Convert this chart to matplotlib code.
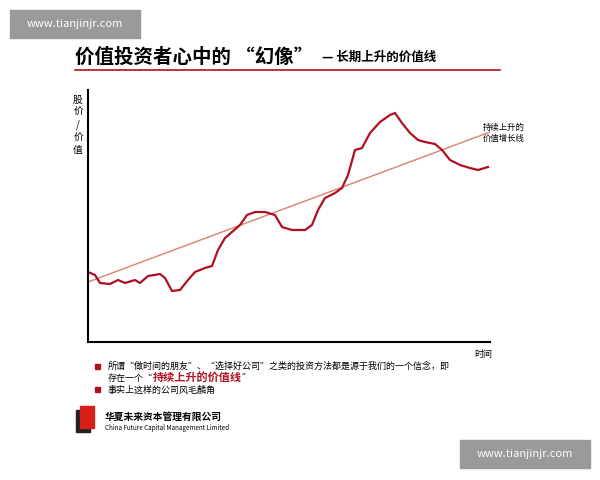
import matplotlib.pyplot as plt
from matplotlib.patches import Rectangle

plt.rcParams['font.family'] = ['Noto Sans CJK SC', 'DejaVu Sans']

# curve (pixel-like units: x to the right, y up from the axis)
curve_x = [88, 95, 100, 110, 118, 125, 135, 140, 148, 160, 165, 172, 180, 188, 195, 205, 212, 218,
           225, 232, 240, 247, 255, 265, 275, 282, 292, 305, 312, 318, 325, 335, 342, 348, 355, 362,
           370, 380, 390, 395, 402, 410, 418, 425, 435, 442, 450, 460, 470, 478, 488]
curve_py = [272, 275, 283, 284, 280, 283, 280, 283, 276, 274, 278, 291, 290, 280, 272, 268, 266, 250,
            238, 232, 225, 215, 212, 212, 215, 227, 230, 230, 225, 210, 198, 193, 188, 175, 150, 148,
            133, 122, 115, 113, 123, 133, 140, 142, 144, 150, 160, 165, 168, 170, 167]
curve_y = [342 - p for p in curve_py]
trend_x = [88, 490]
trend_y = [342 - 282, 342 - 132]

fig = plt.figure(figsize=(6, 4.8), dpi=100)
ax = fig.add_axes([88 / 600, 138 / 480, 402 / 600, 252 / 480])
ax.plot(trend_x, trend_y, color='#d9826f', lw=1)
ax.plot(curve_x, curve_y, color='#b01020', lw=1.6)
ax.set_xlim(88, 490)
ax.set_ylim(0, 252)
ax.set_xticks([])
ax.set_yticks([])
for s in ['top', 'right']:
    ax.spines[s].set_visible(False)
ax.spines['left'].set_linewidth(1.5)
ax.spines['bottom'].set_linewidth(1.5)

def T(x, y, s, **kw):
    fig.text(x / 600, 1 - y / 480, s, **kw)

T(75, 57, '价值投资者心中的 “幻像”', fontsize=14, fontweight='bold', va='center')
T(322, 57, '— 长期上升的价值线', fontsize=9, fontweight='bold', va='center')
fig.add_artist(plt.Line2D([75 / 600, 500 / 600], [1 - 70 / 480] * 2, color='#b01020', lw=1.2))
T(78, 125, '股\n价\n/\n价\n值', fontsize=7, ha='center', va='center', linespacing=1.3)
T(504, 133, '持续上升的\n价值增长线', fontsize=6, ha='center', va='center')
T(483, 355, '时间', fontsize=6.5, ha='center', va='center')

fig.add_artist(Rectangle((95 / 600, 1 - 369 / 480), 5 / 600, 5 / 480, color='#b01020', transform=fig.transFigure))
fig.add_artist(Rectangle((95 / 600, 1 - 392 / 480), 5 / 600, 5 / 480, color='#b01020', transform=fig.transFigure))
T(108, 366, '所谓“做时间的朋友”、“选择好公司”之类的投资方法都是源于我们的一个信念，即',
  fontsize=6.5, va='center')
T(108, 378, '存在一个“', fontsize=6.5, va='center')
T(153, 378, '持续上升的价值线', fontsize=8, fontweight='bold', color='#b01020', va='center')
T(242, 378, '”', fontsize=6.5, va='center')
T(108, 390, '事实上这样的公司风毛麟角', fontsize=6.5, va='center')

# logo
fig.add_artist(Rectangle((76 / 600, 1 - 432 / 480), 14 / 600, 22 / 480, color='#222222', transform=fig.transFigure))
fig.add_artist(Rectangle((80 / 600, 1 - 428 / 480), 14 / 600, 22 / 480, color='#d8201a', transform=fig.transFigure))
T(105, 417, '华夏未来资本管理有限公司', fontsize=7, fontweight='bold', va='center')
T(105, 428, 'China Future Capital Management Limited', fontsize=4.5, va='center')

# watermarks
for x0, y0 in [(10, 10), (460, 440)]:
    fig.add_artist(Rectangle((x0 / 600, 1 - (y0 + 28) / 480), 130 / 600, 28 / 480,
                             color='#9a9a9a', transform=fig.transFigure))
    T(x0 + 65, y0 + 14, 'www.tianjinjr.com', fontsize=8, color='white', ha='center', va='center')

fig.savefig('out.png')
